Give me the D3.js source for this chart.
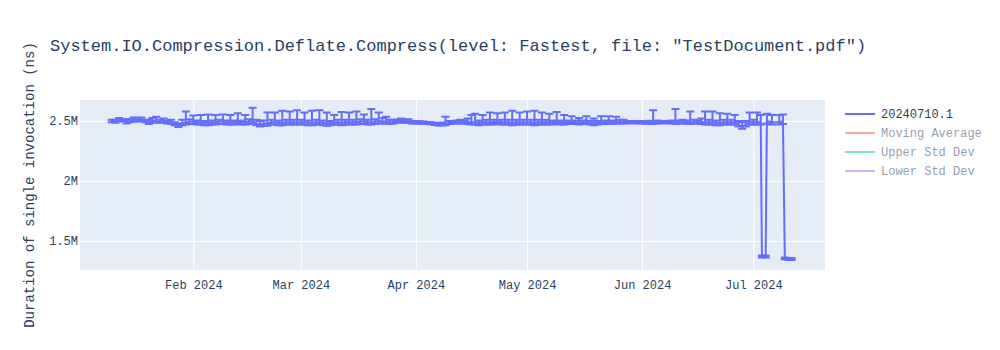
<!DOCTYPE html>
<html>
<head>
<meta charset="utf-8">
<script src="https://cdn.jsdelivr.net/npm/d3@7"></script>
<style>
  html, body { margin: 0; padding: 0; background: #fff; }
  svg { display: block; font-family: "Courier New", "Liberation Mono", monospace; }
</style>
</head>
<body>
<div id="chart"></div>
<script>
// ---------- data ----------
const chartTitle = 'System.IO.Compression.Deflate.Compress(level: Fastest, file: "TestDocument.pdf")';
const yAxisTitle = "Duration of single invocation (ns)";
const legendNames = ["20240710.1", "Moving Average", "Upper Std Dev", "Lower Std Dev"];
const legendColors = ["#636efa", "#EF553B", "#00cc96", "#ab63fa"];
const legendVisible = [true, false, false, false];

// one run per day from 2024-01-10 to 2024-07-02, then the irregular runs of July
const dailyStart = "2024-01-10T00:00Z";
const dailyEnd = "2024-07-03T00:00Z";
const extraDates = [
  "2024-07-03T00:00Z","2024-07-03T08:00Z","2024-07-04T08:00Z","2024-07-04T16:00Z","2024-07-06T00:00Z",
  "2024-07-08T00:00Z","2024-07-09T00:00Z","2024-07-09T12:00Z","2024-07-10T12:00Z","2024-07-11T08:00Z"
];

// values in thousands of ns (k)
const values = [
  // Jan 10-31
  2500,2495,2510,2505,2495,2500,2510,2505,2515,2500,2490,2500,2505,2495,2500,2490,2490,2475,2460,2480,2490,2495,
  // Feb
  2495,2490,2490,2485,2485,2490,2490,2495,2495,2490,2490,2490,2495,2490,2490,2495,2500,2480,2470,2475,
  2480,2490,2490,2485,2485,2490,2490,2490,2490,
  // Mar
  2490,2490,2485,2485,2490,2490,2485,2480,2485,2490,2490,2485,2490,2490,2490,2490,2495,2495,2490,2490,
  2495,2500,2495,2495,2490,2490,2495,2500,2495,2495,2490,
  // Apr
  2490,2488,2485,2482,2480,2475,2470,2472,2475,2485,2490,2490,2490,2490,2490,2490,2490,2485,2490,2490,
  2490,2490,2495,2490,2490,2490,2485,2490,2490,2490,
  // May
  2490,2490,2485,2490,2490,2490,2490,2490,2495,2490,2490,2490,2490,2490,2485,2490,2490,2485,2480,2485,
  2490,2490,2490,2490,2495,2490,2490,2490,2490,2490,2490,
  // Jun
  2488,2485,2488,2490,2490,2490,2490,2490,2490,2490,2490,2490,2490,2490,2490,2490,2490,2490,2490,2490,
  2485,2485,2490,2490,2490,2490,2470,2450,2470,2490,
  // Jul 1-2
  2490,2490,
  // Jul irregular
  2490,1370,1370,2500,2490,2490,2495,1355,1350,1350
];
const errorsPlus = [
  // Jan 10-31
  10,15,15,10,20,15,20,10,15,10,20,25,30,15,20,15,20,15,20,30,90,20,
  // Feb
  50,15,60,15,70,15,60,15,60,15,60,15,70,15,60,20,110,30,30,30,
  90,20,80,20,100,20,90,20,100,
  // Mar
  20,80,20,100,20,100,20,90,15,60,20,90,20,80,20,90,20,60,20,110,
  20,70,30,40,20,20,15,20,15,20,10,
  // Apr
  10,10,10,10,10,10,10,15,60,15,10,15,20,15,30,60,70,20,60,20,
  80,20,70,20,80,20,100,20,80,20,
  // May
  90,20,100,20,80,20,70,15,80,15,60,15,50,15,40,15,50,15,40,15,
  50,15,50,15,40,20,20,10,10,10,10,
  // Jun
  10,10,15,100,15,10,10,10,15,110,15,20,15,90,20,15,30,90,20,90,
  20,80,20,70,20,60,30,40,30,80,
  // Jul 1-2
  20,80,
  // Jul irregular
  60,8,8,60,60,60,60,8,8,8
];
const errorsMinus = [
  10,10,10,10,15,10,15,10,10,10,15,15,15,10,15,10,15,10,10,15,20,20,
  20,20,20,20,20,20,20,20,20,20,20,20,20,20,20,20,20,15,15,15,
  20,20,20,20,20,20,20,20,20,
  20,20,20,20,20,20,20,20,20,20,20,20,20,20,20,20,20,20,20,20,
  20,20,15,15,15,10,10,10,10,10,10,
  10,10,8,8,8,8,8,10,10,10,10,10,10,10,15,20,20,20,20,20,
  20,20,20,20,20,20,20,20,20,20,
  20,20,20,20,20,20,20,20,20,20,20,15,15,15,15,15,15,15,15,15,
  15,15,15,15,15,10,10,8,8,8,8,
  8,8,8,15,10,8,8,8,10,15,10,10,10,15,10,10,15,20,20,20,
  20,20,20,20,20,20,15,15,15,20,
  20,20,
  20,8,8,20,20,20,20,8,8,8
];
const valueUnit = 1000; // values above are in thousands of ns

const xTickDates = ["2024-02-01T00:00Z","2024-03-01T00:00Z","2024-04-01T00:00Z","2024-05-01T00:00Z","2024-06-01T00:00Z","2024-07-01T00:00Z"];
const yTickValues = [1500000, 2000000, 2500000];
const xDomain = ["2024-01-01T11:00Z", "2024-07-20T08:00Z"];
const yDomain = [1258000, 2675000];

// ---------- layout ----------
const W = 1000, H = 350;
const plot = { left: 80, right: 825, top: 100, bottom: 270 };
const textColor = "#2a3f5f";
const fontFamily = '"Courier New", "Liberation Mono", monospace';
const parse = d => new Date(d);

const dates = d3.utcDay.range(parse(dailyStart), parse(dailyEnd)).concat(extraDates.map(parse));

const svg = d3.select("#chart").append("svg").attr("width", W).attr("height", H);

const x = d3.scaleUtc().domain(xDomain.map(parse)).range([plot.left, plot.right]);
const y = d3.scaleLinear().domain(yDomain).range([plot.bottom, plot.top]);

// plot background
svg.append("rect")
  .attr("x", plot.left).attr("y", plot.top)
  .attr("width", plot.right - plot.left).attr("height", plot.bottom - plot.top)
  .attr("fill", "#E5ECF6");

// grid via axes
const xGrid = d3.axisBottom(x).tickValues(xTickDates.map(parse))
  .tickSize(-(plot.bottom - plot.top)).tickFormat("");
svg.append("g").attr("transform", `translate(0,${plot.bottom})`).call(xGrid)
  .call(g => g.select(".domain").remove())
  .call(g => g.selectAll("line").attr("stroke", "#fff").attr("stroke-width", 1));

const yGrid = d3.axisLeft(y).tickValues(yTickValues)
  .tickSize(-(plot.right - plot.left)).tickFormat("");
svg.append("g").attr("transform", `translate(${plot.left},0)`).call(yGrid)
  .call(g => g.select(".domain").remove())
  .call(g => g.selectAll("line").attr("stroke", "#fff").attr("stroke-width", 1));

// axis labels
const xAxis = d3.axisBottom(x).tickValues(xTickDates.map(parse))
  .tickSize(0).tickPadding(10).tickFormat(d3.utcFormat("%b %Y"));
svg.append("g").attr("transform", `translate(0,${plot.bottom})`).call(xAxis)
  .call(g => g.select(".domain").remove())
  .call(g => g.selectAll("text").attr("fill", textColor)
    .style("font-size", "12px").style("font-family", fontFamily));

const yAxis = d3.axisLeft(y).tickValues(yTickValues)
  .tickSize(0).tickPadding(2).tickFormat(d3.format("~s"));
svg.append("g").attr("transform", `translate(${plot.left},0)`).call(yAxis)
  .call(g => g.select(".domain").remove())
  .call(g => g.selectAll("text").attr("fill", textColor)
    .style("font-size", "12px").style("font-family", fontFamily));

// data
const data = dates.map((t, i) => ({
  t, v: values[i] * valueUnit, ep: errorsPlus[i] * valueUnit, em: errorsMinus[i] * valueUnit
}));

svg.append("clipPath").attr("id", "plotclip").append("rect")
  .attr("x", plot.left).attr("y", plot.top)
  .attr("width", plot.right - plot.left).attr("height", plot.bottom - plot.top);

const gData = svg.append("g").attr("clip-path", "url(#plotclip)");
const color = "#636efa";
const capW = 4;

// error bars
const eb = gData.append("g").attr("stroke", color).attr("stroke-width", 2).attr("fill", "none");
eb.selectAll("path").data(data).join("path")
  .attr("d", d => {
    const cx = x(d.t), y1 = y(d.v + d.ep), y0 = y(d.v - d.em);
    return `M${cx},${y0}V${y1}M${cx - capW},${y1}H${cx + capW}M${cx - capW},${y0}H${cx + capW}`;
  });

// line
const line = d3.line().x(d => x(d.t)).y(d => y(d.v));
gData.append("path").datum(data)
  .attr("d", line).attr("fill", "none")
  .attr("stroke", color).attr("stroke-width", 2).attr("stroke-linejoin", "round");

// title
svg.append("text")
  .attr("x", 50).attr("y", 51)
  .attr("fill", textColor)
  .style("font-size", "17px")
  .text(chartTitle);

// y axis title
svg.append("text")
  .attr("transform", `translate(34,${(plot.top + plot.bottom) / 2}) rotate(-90)`)
  .attr("text-anchor", "middle")
  .attr("fill", textColor)
  .style("font-size", "14px")
  .text(yAxisTitle);

// legend
const legend = svg.append("g").attr("transform", "translate(845,114)");
legendNames.forEach((name, i) => {
  const g = legend.append("g").attr("transform", `translate(0,${i * 19})`)
    .attr("opacity", legendVisible[i] ? 1 : 0.5);
  g.append("line").attr("x1", 0).attr("x2", 30).attr("y1", 0).attr("y2", 0)
    .attr("stroke", legendColors[i]).attr("stroke-width", 2);
  g.append("text").attr("x", 36).attr("y", 0).attr("dy", "0.35em")
    .attr("fill", textColor).style("font-size", "12px").text(name);
});
</script>
</body>
</html>
